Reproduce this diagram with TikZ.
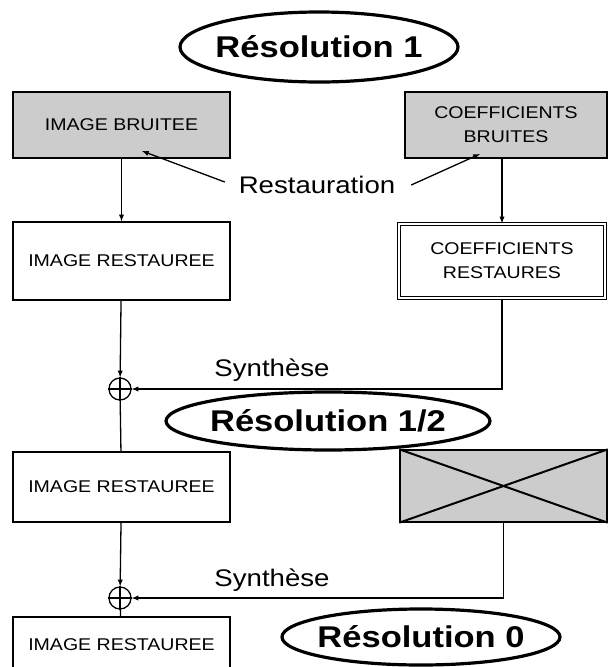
\documentclass[tikz,border=0pt]{standalone}
\usepackage{fontspec}
\setmainfont[FakeStretch=1.15]{Liberation Sans}
\definecolor{grain}{rgb}{0.8,0.8,0.8}
\tikzset{
  box/.style={draw, line width=1.3pt, rectangle, align=center, font=\fontsize{17}{24}\selectfont},
  noisy/.style={box, fill=grain},
  level/.style={font=\bfseries\fontsize{30}{34}\selectfont, inner sep=0pt},
  rim/.style={line width=3.2pt},
  oper/.style={font=\fontsize{24}{28}\selectfont},
  sum/.style={draw, circle, line width=1.3pt, minimum size=22pt, inner sep=0pt}
}

\begin{document}
\begin{tikzpicture}[x=1pt, y=-1pt, >=latex, line width=1.3pt]
\clip (0,0) rectangle (609,667);
\node[level] (res1) at (319,47) {Résolution 1};
\draw[rim] (res1.center) ellipse [x radius=139pt, y radius=35pt];
\node[noisy, minimum width=217pt, minimum height=66pt] (imgb) at (121.5,125) {IMAGE BRUITEE};
\node[noisy, minimum width=202pt, minimum height=66pt] (coefb) at (506,125) {COEFFICIENTS\\BRUITES};
\node[oper] (rest) at (317,185) {Restauration};
\coordinate (restl) at (142,151);
\coordinate (restr) at (480,154);
\draw[->] (rest.west) ++(-10,-3) -- (restl);
\draw[->] (rest.east) ++(12,0) -- (restr);
\node[box, minimum width=217pt, minimum height=78pt] (imgr1) at (121.5,261) {IMAGE RESTAUREE};
\node[box, double, double distance=2pt, minimum width=206pt, minimum height=74pt] (coefr) at (502,261) {COEFFICIENTS\\RESTAURES};
\draw[->] (imgb) -- (imgr1);
\draw[->] (imgb -| coefr) ++(0,33) -- (coefr.north);
% synthese 1
\node[sum] (sum1) at (120,389) {};
\draw (sum1.north) -- (sum1.south) (sum1.west) -- (sum1.east);
\draw[->] (imgr1) -- (sum1);
\draw[->] (coefr.south) |- (sum1.east);
\node[oper] (syn1) at (272,370) {Synthèse};
\node[level] (res2) at (328,421) {Résolution 1/2};
\draw[rim] (res2.center) ellipse [x radius=162pt, y radius=29pt];
\node[box, minimum width=217pt, minimum height=70pt] (imgr2) at (121.5,487) {IMAGE RESTAUREE};
\node[noisy, minimum width=207pt, minimum height=72pt] (cross) at (503.5,486) {};
\draw[line width=2pt] (cross.north west) -- (cross.south east);
\draw[line width=2pt] (cross.south west) -- (cross.north east);
\draw (sum1) -- (imgr2);
% synthese 2
\node[sum] (sum2) at (120,598) {};
\draw (sum2.north) -- (sum2.south) (sum2.west) -- (sum2.east);
\draw[->] (imgr2) -- (sum2);
\draw[->] (cross.south) |- (sum2.east);
\node[oper] (syn2) at (272,580) {Synthèse};
\node[box, minimum width=217pt, minimum height=56pt] (imgr3) at (121.5,645) {IMAGE RESTAUREE};
\draw (sum2) -- (imgr3);
\node[level] (res0) at (421,637) {Résolution 0};
\draw[rim] (res0.center) ellipse [x radius=139pt, y radius=28pt];
\end{tikzpicture}
\end{document}
